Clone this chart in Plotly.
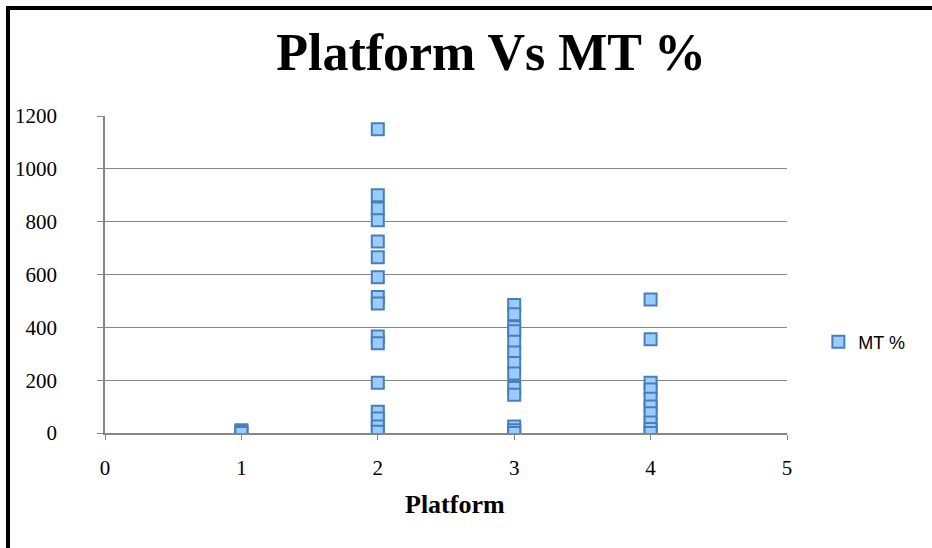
import plotly.graph_objects as go

# Data
platform_1 = [10, 5, 0]
platform_2 = [1150, 900, 850, 805, 725, 665, 590, 515, 490, 365, 340, 190, 80, 55, 25, 5]
platform_3 = [485, 450, 400, 385, 345, 305, 265, 225, 170, 145, 25, 10, 0]
platform_4 = [505, 355, 190, 165, 130, 100, 75, 40, 15, 0]

x_vals = ([1] * len(platform_1) + [2] * len(platform_2)
          + [3] * len(platform_3) + [4] * len(platform_4))
y_vals = platform_1 + platform_2 + platform_3 + platform_4

x_ticks = [0, 1, 2, 3, 4, 5]
y_ticks = [0, 200, 400, 600, 800, 1000, 1200]

serif = "Liberation Serif, Times New Roman, serif"
grid = "#868686"

fig = go.Figure()
fig.add_trace(go.Scatter(
    x=x_vals, y=y_vals, mode="markers", name="MT %",
    marker=dict(symbol="square", size=12, color="#99CCFF",
                line=dict(color="#4A7EBB", width=2)),
))

fig.update_layout(
    width=932, height=548,
    margin=dict(l=105, r=145, t=116, b=115),
    paper_bgcolor="white", plot_bgcolor="white",
    title=dict(text="<b>Platform Vs MT %</b>", xref="container", x=0.527,
               xanchor="center", yref="container", y=0.905, yanchor="middle",
               font=dict(family=serif, size=52, color="black")),
    showlegend=True,
    legend=dict(x=1.046, y=0.287, xanchor="left", yanchor="middle",
                font=dict(family="Liberation Sans, Arial, sans-serif", size=18, color="black"),
                bgcolor="rgba(0,0,0,0)"),
    xaxis=dict(range=[0, 5], tickvals=x_ticks, showgrid=False, zeroline=False,
               showline=True, linecolor=grid, linewidth=1.5,
               ticks="outside", ticklen=5, tickcolor=grid, ticklabelstandoff=10,
               tickfont=dict(family=serif, size=21, color="black")),
    yaxis=dict(range=[0, 1200], tickvals=y_ticks, showgrid=True, gridcolor=grid,
               gridwidth=1, zeroline=False, showline=True, linecolor=grid,
               linewidth=1.5, ticks="outside", ticklen=6, tickcolor=grid,
               ticklabelstandoff=36,
               tickfont=dict(family=serif, size=21, color="black")),
    annotations=[dict(text="<b>Platform</b>", xref="paper", yref="paper",
                      x=0.513, y=-0.227, xanchor="center", yanchor="middle",
                      showarrow=False,
                      font=dict(family=serif, size=26, color="black"))],
    shapes=[dict(type="rect", xref="paper", yref="paper",
                 x0=-0.1422, x1=1.2243, y0=-0.4006, y1=1.3407,
                 line=dict(color="black", width=4), layer="above")],
)

fig.write_html("out.html")
